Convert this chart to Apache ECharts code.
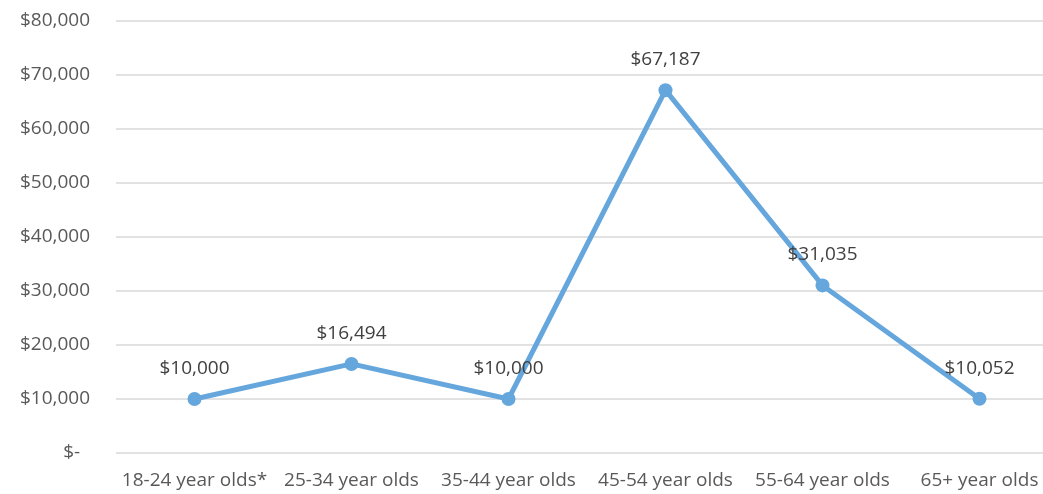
<!DOCTYPE html>
<html>
<head>
<meta charset="utf-8">
<script src="https://cdn.jsdelivr.net/npm/echarts@6/dist/echarts.min.js"></script>
<style>
  html, body { margin: 0; padding: 0; background: #fff; }
  #main { width: 1043px; height: 494px; }
</style>
</head>
<body>
<div id="main"></div>
<script>
// 数据
var categories = ['18-24 year olds*', '25-34 year olds', '35-44 year olds', '45-54 year olds', '55-64 year olds', '65+ year olds']
var values = [10000, 16494, 10000, 67187, 31035, 10052]
var yMin = 0
var yMax = 80000
var yStep = 10000

function money (v) {
  if (v === 0) return '$-  '
  return '$' + String(v).replace(/\B(?=(\d{3})+(?!\d))/g, ',')
}

var chart = echarts.init(document.getElementById('main'))
var textColor = '#595959'
var font = '"Open Sans", sans-serif'

chart.setOption({
  animation: false,
  // 网格延伸到画布右边之外（原图被裁切）
  grid: { left: 116, width: 942, top: 21, bottom: 41, outerBoundsMode: 'none', containLabel: false },
  xAxis: {
    type: 'category',
    data: categories,
    axisLine: { show: false },
    axisTick: { show: false },
    axisLabel: { color: textColor, fontSize: 19, fontFamily: font, margin: 18, interval: 0 }
  },
  yAxis: {
    type: 'value',
    min: yMin,
    max: yMax,
    interval: yStep,
    axisLine: { show: false },
    axisTick: { show: false },
    splitLine: { lineStyle: { color: '#D9D9D9', width: 1.5 } },
    axisLabel: {
      color: textColor, fontSize: 19, fontFamily: font, margin: 26,
      formatter: function (v) { return money(v) }
    }
  },
  series: [
    {
      type: 'line',
      data: values,
      symbol: 'circle',
      symbolSize: 14,
      lineStyle: { color: '#65A6DC', width: 5 },
      itemStyle: { color: '#65A6DC' },
      label: {
        show: true,
        position: 'top',
        distance: 14,
        color: '#404040',
        fontSize: 19,
        fontFamily: font,
        formatter: function (p) { return money(p.value) }
      }
    }
  ]
})
</script>
</body>
</html>
